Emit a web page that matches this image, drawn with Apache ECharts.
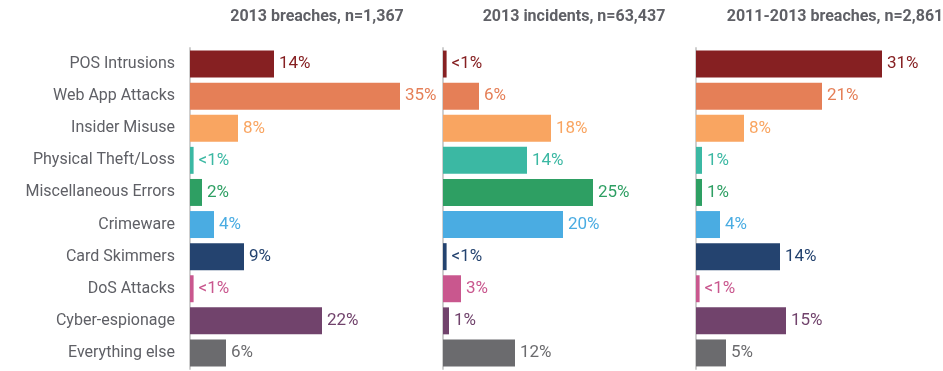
<!DOCTYPE html>
<html><head><meta charset="utf-8">
<script src="https://cdn.jsdelivr.net/npm/echarts@6/dist/echarts.min.js"></script>
<style>html,body{margin:0;padding:0;background:#fff}#c{width:943px;height:371px}</style>
</head><body><div id="c"></div>
<script>
// Data
var categories = ['POS Intrusions','Web App Attacks','Insider Misuse','Physical Theft/Loss','Miscellaneous Errors','Crimeware','Card Skimmers','DoS Attacks','Cyber-espionage','Everything else'];
var panelTitles = ['2013 breaches, n=1,367','2013 incidents, n=63,437','2011-2013 breaches, n=2,861'];
// "<1%" values are drawn as 0.6
var breaches2013  = [14, 35, 8, 0.6, 2, 4, 9, 0.6, 22, 6];
var incidents2013 = [0.6, 6, 18, 14, 25, 20, 0.6, 3, 1, 12];
var breaches1113  = [31, 21, 8, 1, 1, 4, 14, 0.6, 15, 5];

// Styles
var colors = ['#862022','#E57F57','#F9A561','#3BB8A3','#2E9F63','#4AACE2','#24436F','#C9578E','#71436C','#6B6B6E'];
var lefts = [190, 443, 696];
var titleCenters = [312, 569, 830];
var FONT = 'Roboto';
var TEXT = '#5f6066';

var panels = [breaches2013, incidents2013, breaches1113];
var grids = [], xAxes = [], yAxes = [], series = [], titles = [];
panels.forEach(function (vals, i) {
  grids.push({left: lefts[i], top: 48, width: 240, height: 321, containLabel: false});
  xAxes.push({type: 'value', gridIndex: i, min: 0, max: 40, show: false});
  yAxes.push({
    type: 'category', gridIndex: i, data: categories, inverse: true,
    axisLine: {show: true, lineStyle: {color: '#cfcfcf', width: 2}},
    axisTick: {show: false},
    axisLabel: {show: i === 0, color: TEXT, fontFamily: FONT, fontSize: 16, margin: 15}
  });
  titles.push({
    text: panelTitles[i], left: titleCenters[i], top: 4, textAlign: 'center',
    textStyle: {fontFamily: FONT, fontWeight: 'bold', fontSize: 16, color: TEXT}
  });
  series.push({
    type: 'bar', xAxisIndex: i, yAxisIndex: i, barCategoryGap: '16%',
    silent: true, animation: false,
    data: vals.map(function (v, k) {
      return {value: v, itemStyle: {color: colors[k]}, label: {color: colors[k]}};
    }),
    label: {
      show: true, position: 'right', distance: 5, fontFamily: FONT, fontSize: 17,
      formatter: function (p) { return p.value < 1 ? '<1%' : p.value + '%'; }
    }
  });
});

var chart = echarts.init(document.getElementById('c'), null, {renderer: 'canvas'});
chart.setOption({
  animation: false,
  title: titles,
  grid: grids, xAxis: xAxes, yAxis: yAxes, series: series
});
</script></body></html>
